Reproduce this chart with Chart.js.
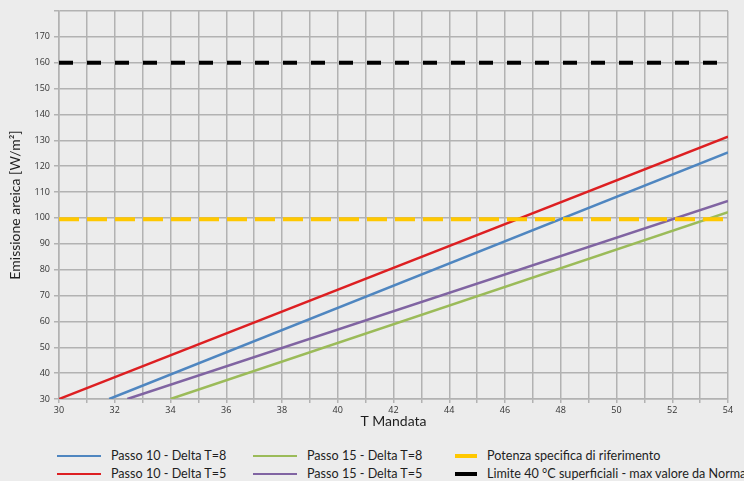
<!DOCTYPE html>
<html>
<head>
<meta charset="utf-8">
<script src="https://cdn.jsdelivr.net/npm/chart.js@4/dist/chart.umd.min.js"></script>
<style>
  html, body { margin: 0; padding: 0; background: #ececec; }
  #wrap { position: relative; width: 744px; height: 481px; overflow: hidden; font-family: Lato, sans-serif; }
  #box { position: absolute; left: 0; top: 0; width: 744px; height: 436px; }
  .leg { position: absolute; font-size: 12.6px; color: #1e1e1e; white-space: nowrap; line-height: 16px; }
  .leg i { position: absolute; top: 7px; display: block; }
</style>
</head>
<body>
<div id="wrap">
  <div id="box"><canvas id="chart"></canvas></div>
  <div id="legend"></div>
</div>
<script>
// series: T Mandata -> Emissione areica (straight lines, end points)
const passo10dt8 = [{ x: 31.8, y: 30 }, { x: 54, y: 125.3 }];
const passo10dt5 = [{ x: 30, y: 30 }, { x: 54, y: 131.4 }];
const passo15dt8 = [{ x: 34, y: 30 }, { x: 54, y: 102.2 }];
const passo15dt5 = [{ x: 32.45, y: 30 }, { x: 54, y: 106.6 }];
const potenzaRif = [{ x: 30, y: 99.5 }, { x: 54, y: 99.5 }];
const limiteNorma = [{ x: 30, y: 160 }, { x: 54, y: 160 }];

const seriesNames = [
    'Passo 10 - Delta T=8',
    'Passo 10 - Delta T=5',
    'Passo 15 - Delta T=8',
    'Passo 15 - Delta T=5',
    'Potenza specifica di riferimento',
    'Limite 40 °C superficiali - max valore da Norma'
];
const xTickLabels = [30, 32, 34, 36, 38, 40, 42, 44, 46, 48, 50, 52, 54];
const yTickLabels = [30, 40, 50, 60, 70, 80, 90, 100, 110, 120, 130, 140, 150, 160, 170];

const colors = ['#4f86c0', '#dd1f22', '#9bbb59', '#8064a2', '#ffc800', '#000000'];

function ds(label, data, color, extra) {
    return Object.assign({
        label: label,
        data: data,
        borderColor: color,
        backgroundColor: color,
        borderWidth: 2.5,
        pointRadius: 0,
        fill: false,
        tension: 0
    }, extra || {});
}

const gridColor = '#b2b2b2';

new Chart(document.getElementById('chart').getContext('2d'), {
    type: 'line',
    data: {
        datasets: [
            ds(seriesNames[5], limiteNorma, colors[5], { borderWidth: 4, borderDash: [14, 14] }),
            ds(seriesNames[4], potenzaRif, colors[4], { borderWidth: 4, borderDash: [20, 8] }),
            ds(seriesNames[0], passo10dt8, colors[0]),
            ds(seriesNames[1], passo10dt5, colors[1]),
            ds(seriesNames[2], passo15dt8, colors[2]),
            ds(seriesNames[3], passo15dt5, colors[3])
        ]
    },
    options: {
        responsive: true,
        maintainAspectRatio: false,
        animation: false,
        layout: { padding: { top: 11, right: 16, left: 0, bottom: 6 } },
        plugins: {
            legend: { display: false },
            tooltip: { enabled: false }
        },
        scales: {
            x: {
                type: 'linear',
                min: 30,
                max: 54,
                grid: { color: gridColor, lineWidth: 1.5, tickLength: 4 },
                border: { color: gridColor, width: 1.5 },
                ticks: {
                    stepSize: 1,
                    autoSkip: false,
                    maxRotation: 0,
                    color: '#333',
                    font: { family: 'Open Sans', size: 9 },
                    padding: 2,
                    callback: v => xTickLabels.includes(v) ? String(v) : ''
                },
                title: {
                    display: true,
                    text: 'T Mandata',
                    color: '#1e1e1e',
                    font: { family: 'Lato', size: 14 },
                    padding: { top: -4, bottom: 0 }
                },
                afterFit: s => { s.height = 31; }
            },
            y: {
                min: 30,
                max: 180,
                grid: { color: gridColor, lineWidth: 1.5, tickLength: 5 },
                border: { color: gridColor, width: 1.5 },
                ticks: {
                    stepSize: 10,
                    color: '#333',
                    font: { family: 'Open Sans', size: 9 },
                    padding: 4,
                    callback: v => yTickLabels.includes(v) ? String(v) : ''
                },
                title: {
                    display: true,
                    text: 'Emissione areica [W/m²]',
                    color: '#1e1e1e',
                    font: { family: 'Lato', size: 14 },
                    padding: { top: 7, bottom: 2 }
                },
                afterFit: s => { s.width = 59; }
            }
        }
    }
});

// legend in two rows, three columns, like the original
const legendItems = [
    { i: 0, x: 57, y: 448, w: 44, h: 2 },
    { i: 1, x: 57, y: 466, w: 44, h: 2 },
    { i: 2, x: 253, y: 448, w: 44, h: 2 },
    { i: 3, x: 253, y: 466, w: 44, h: 2 },
    { i: 4, x: 455, y: 448, w: 22, h: 4 },
    { i: 5, x: 455, y: 466, w: 22, h: 4 }
];
const legend = document.getElementById('legend');
legendItems.forEach(it => {
    const el = document.createElement('div');
    el.className = 'leg';
    el.style.left = it.x + 'px';
    el.style.top = it.y + 'px';
    el.style.paddingLeft = (it.w + 10) + 'px';
    el.innerHTML = '<i style="left:0;width:' + it.w + 'px;height:' + it.h + 'px;margin-top:' + (-it.h / 2 + 1) + 'px;background:' + colors[it.i] + '"></i>' + seriesNames[it.i];
    legend.appendChild(el);
});
</script>
</body>
</html>
